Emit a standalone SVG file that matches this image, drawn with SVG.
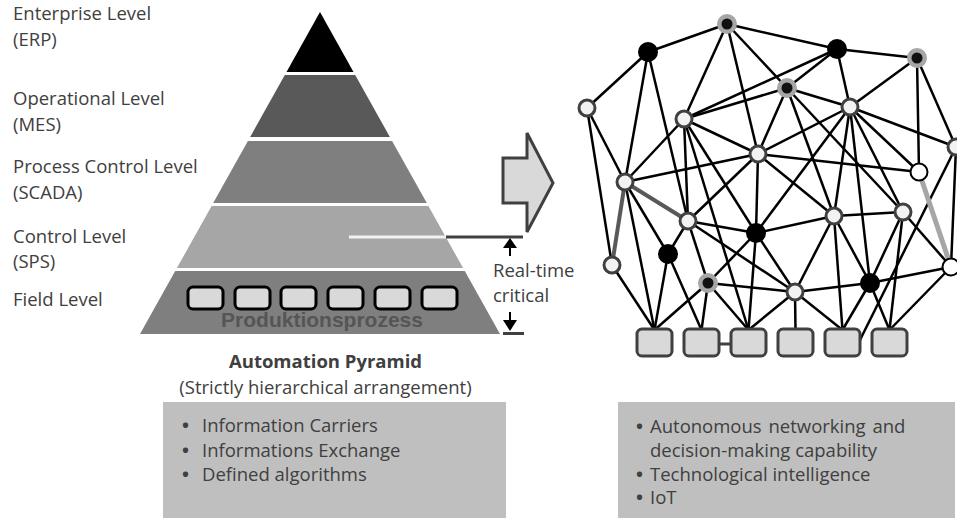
<svg xmlns="http://www.w3.org/2000/svg" width="957" height="519" viewBox="0 0 957 519">
<style>
.lbl{font-family:"Open Sans",Lato,"Liberation Sans",sans-serif;font-size:18.5px;fill:#404040}
.bold{font-weight:bold}
.bs{font-weight:bold}
.e{stroke:#000;stroke-width:2.5;fill:none}
.box{fill:#d9d9d9;stroke:#404040;stroke-width:3}
.pbox{fill:#d9d9d9;stroke:#000;stroke-width:3}
.wn{fill:#f2f2f2;stroke:#404040;stroke-width:3}
.pw{fill:#fff;stroke:#000;stroke-width:2}
.bk{fill:#000}
.halo{fill:#a6a6a6}
.core{fill:#111}
</style>
<rect width="957" height="519" fill="#fff"/>

<!-- left labels -->
<g id="labels">
<text class="lbl" x="13" y="20">Enterprise Level</text>
<text class="lbl" x="13" y="46">(ERP)</text>
<text class="lbl" x="13" y="105">Operational Level</text>
<text class="lbl" x="13" y="131">(MES)</text>
<text class="lbl" x="13" y="173">Process Control Level</text>
<text class="lbl" x="13" y="199">(SCADA)</text>
<text class="lbl" x="13" y="243">Control Level</text>
<text class="lbl" x="13" y="268">(SPS)</text>
<text class="lbl" x="13" y="306">Field Level</text>
</g>

<!-- pyramid -->
<g id="pyramid">
<polygon points="320,12 353.5,72 286.5,72" fill="#000"/>
<polygon points="284.8,75 355.2,75 389.9,137 250.1,137" fill="#595959"/>
<polygon points="247.9,141 392.1,141 426.8,203 213.2,203" fill="#7f7f7f"/>
<polygon points="211.6,206 428.4,206 463.1,268 176.9,268" fill="#a6a6a6"/>
<polygon points="175.2,271 464.8,271 500,334 140,334" fill="#7f7f7f"/>
<line x1="349" y1="237" x2="446" y2="237" stroke="#f2f2f2" stroke-width="3"/>
<rect class="pbox" x="188" y="287" width="35" height="22" rx="5"/>
<rect class="pbox" x="235" y="287" width="35" height="22" rx="5"/>
<rect class="pbox" x="281" y="287" width="35" height="22" rx="5"/>
<rect class="pbox" x="328" y="287" width="35" height="22" rx="5"/>
<rect class="pbox" x="375" y="287" width="35" height="22" rx="5"/>
<rect class="pbox" x="422" y="287" width="35" height="22" rx="5"/>
<text x="322" y="327" text-anchor="middle" font-family="'Liberation Sans',Arial,sans-serif" font-weight="bold" font-size="21" fill="#555">Produktionsprozess</text>
</g>

<!-- real-time marker -->
<g id="realtime">
<line x1="446" y1="237" x2="523" y2="237" stroke="#404040" stroke-width="3"/>
<line x1="510" y1="246" x2="510" y2="256" stroke="#000" stroke-width="2"/>
<polygon points="510,238 503,248 517,248" fill="#000"/>
<line x1="510" y1="312" x2="510" y2="321" stroke="#000" stroke-width="2"/>
<polygon points="503,320 517,320 510,331" fill="#000"/>
<line x1="503" y1="333.5" x2="524" y2="333.5" stroke="#404040" stroke-width="3"/>
<text class="lbl" x="493" y="277">Real-time</text>
<text class="lbl" x="493" y="302">critical</text>
</g>

<!-- big arrow -->
<g id="bigarrow">
<polygon points="503,158 527,158 527,133 553,183 527,232 527,203 503,203" fill="#d9d9d9" stroke="#404040" stroke-width="3" stroke-linejoin="miter"/>
</g>

<!-- captions -->
<g id="pyramid-caption">
<text class="lbl bold" x="325.5" y="368" text-anchor="middle">Automation Pyramid</text>
<text class="lbl" x="325.5" y="394" text-anchor="middle">(Strictly hierarchical arrangement)</text>
</g>

<g id="left-box">
<rect x="163" y="402" width="343" height="116" fill="#bfbfbf"/>
<text class="lbl" x="182" y="432"><tspan class="bs">•</tspan><tspan x="202">Information Carriers</tspan></text>
<text class="lbl" x="182" y="457"><tspan class="bs">•</tspan><tspan x="202">Informations Exchange</tspan></text>
<text class="lbl" x="182" y="481"><tspan class="bs">•</tspan><tspan x="202">Defined algorithms</tspan></text>
</g>

<g id="right-box">
<rect x="618" y="402" width="337" height="116" fill="#bfbfbf"/>
<text class="lbl" x="636" y="433"><tspan class="bs">•</tspan><tspan x="650" word-spacing="2">Autonomous networking and</tspan></text>
<text class="lbl" x="650" y="457">decision-making capability</text>
<text class="lbl" x="636" y="481"><tspan class="bs">•</tspan><tspan x="650">Technological intelligence</tspan></text>
<text class="lbl" x="636" y="504"><tspan class="bs">•</tspan><tspan x="650">IoT</tspan></text>
</g>

<!-- connectors of the network -->
<g id="connectors">
<g class="e">
<line x1="727" y1="24" x2="648" y2="52"/>
<line x1="727" y1="24" x2="837" y2="49"/>
<line x1="727" y1="24" x2="684" y2="119"/>
<line x1="727" y1="24" x2="758" y2="154"/>
<line x1="727" y1="24" x2="787" y2="88"/>
<line x1="837" y1="49" x2="917" y2="58"/>
<line x1="837" y1="49" x2="787" y2="88"/>
<line x1="837" y1="49" x2="850" y2="107"/>
<line x1="837" y1="49" x2="684" y2="119"/>
<line x1="917" y1="58" x2="850" y2="107"/>
<line x1="917" y1="58" x2="919" y2="172"/>
<line x1="917" y1="58" x2="956" y2="147"/>
<line x1="787" y1="88" x2="684" y2="119"/>
<line x1="787" y1="88" x2="850" y2="107"/>
<line x1="787" y1="88" x2="758" y2="154"/>
<line x1="787" y1="88" x2="834" y2="216"/>
<line x1="787" y1="88" x2="903" y2="212"/>
<line x1="850" y1="107" x2="758" y2="154"/>
<line x1="850" y1="107" x2="919" y2="172"/>
<line x1="850" y1="107" x2="956" y2="147"/>
<line x1="850" y1="107" x2="756" y2="233"/>
<line x1="850" y1="107" x2="834" y2="216"/>
<line x1="850" y1="107" x2="903" y2="212"/>
<line x1="850" y1="107" x2="870" y2="283"/>
<line x1="758" y1="154" x2="684" y2="119"/>
<line x1="758" y1="154" x2="625" y2="182"/>
<line x1="758" y1="154" x2="919" y2="172"/>
<line x1="758" y1="154" x2="688" y2="221"/>
<line x1="758" y1="154" x2="756" y2="233"/>
<line x1="758" y1="154" x2="834" y2="216"/>
<line x1="684" y1="119" x2="625" y2="182"/>
<line x1="684" y1="119" x2="688" y2="221"/>
<line x1="684" y1="119" x2="756" y2="233"/>
<line x1="684" y1="119" x2="748.5" y2="330"/>
<line x1="587" y1="108" x2="648" y2="52"/>
<line x1="587" y1="108" x2="625" y2="182"/>
<line x1="587" y1="108" x2="612" y2="265"/>
<line x1="648" y1="52" x2="625" y2="182"/>
<line x1="648" y1="52" x2="688" y2="221"/>
<line x1="625" y1="182" x2="668" y2="254"/>
<line x1="625" y1="182" x2="654.5" y2="330"/>
<line x1="688" y1="221" x2="668" y2="254"/>
<line x1="688" y1="221" x2="708" y2="283"/>
<line x1="688" y1="221" x2="756" y2="233"/>
<line x1="688" y1="221" x2="795" y2="292"/>
<line x1="668" y1="254" x2="654.5" y2="330"/>
<line x1="668" y1="254" x2="701.5" y2="330"/>
<line x1="612" y1="265" x2="654.5" y2="330"/>
<line x1="708" y1="283" x2="756" y2="233"/>
<line x1="708" y1="283" x2="795" y2="292"/>
<line x1="708" y1="283" x2="654.5" y2="330"/>
<line x1="708" y1="283" x2="701.5" y2="330"/>
<line x1="708" y1="283" x2="748.5" y2="330"/>
<line x1="756" y1="233" x2="834" y2="216"/>
<line x1="756" y1="233" x2="795" y2="292"/>
<line x1="756" y1="233" x2="748.5" y2="330"/>
<line x1="834" y1="216" x2="903" y2="212"/>
<line x1="834" y1="216" x2="870" y2="283"/>
<line x1="834" y1="216" x2="795" y2="292"/>
<line x1="834" y1="216" x2="842.5" y2="330"/>
<line x1="903" y1="212" x2="870" y2="283"/>
<line x1="903" y1="212" x2="951" y2="267"/>
<line x1="903" y1="212" x2="889.5" y2="330"/>
<line x1="870" y1="283" x2="795" y2="292"/>
<line x1="870" y1="283" x2="951" y2="267"/>
<line x1="870" y1="283" x2="842.5" y2="330"/>
<line x1="870" y1="283" x2="889.5" y2="330"/>
<line x1="795" y1="292" x2="748.5" y2="330"/>
<line x1="795" y1="292" x2="795.5" y2="330"/>
<line x1="795" y1="292" x2="842.5" y2="330"/>
<line x1="951" y1="267" x2="956" y2="147"/>
<line x1="951" y1="267" x2="889.5" y2="330"/>
<line x1="956" y1="147" x2="859" y2="342"/>
</g>
<line x1="625" y1="182" x2="612" y2="265" stroke="#595959" stroke-width="4"/>
<line x1="625" y1="182" x2="688" y2="221" stroke="#595959" stroke-width="4"/>
<line x1="919" y1="172" x2="951" y2="267" stroke="#a6a6a6" stroke-width="5"/>
<line x1="719" y1="344" x2="732" y2="344" stroke="#404040" stroke-width="3"/>
</g>

<!-- devices -->
<g id="devices">
<rect id="b1" class="box" x="637" y="329" width="35" height="27" rx="5"/>
<rect id="b2" class="box" x="684" y="329" width="35" height="27" rx="5"/>
<rect id="b3" class="box" x="731" y="329" width="35" height="27" rx="5"/>
<rect id="b4" class="box" x="778" y="329" width="35" height="27" rx="5"/>
<rect id="b5" class="box" x="825" y="329" width="35" height="27" rx="5"/>
<rect id="b6" class="box" x="872" y="329" width="35" height="27" rx="5"/>
</g>

<!-- network nodes -->
<g id="nA"><circle class="halo" cx="727" cy="24" r="10"/><circle class="core" cx="727" cy="24" r="5.5"/></g>
<g id="nB"><circle class="bk" cx="648" cy="52" r="10"/></g>
<g id="nC"><circle class="bk" cx="837" cy="49" r="10"/></g>
<g id="nD"><circle class="halo" cx="917" cy="58" r="10"/><circle class="core" cx="917" cy="58" r="5.5"/></g>
<g id="nE"><circle class="halo" cx="787" cy="88" r="10"/><circle class="core" cx="787" cy="88" r="5.5"/></g>
<g id="nF"><circle class="wn" cx="587" cy="108" r="8"/></g>
<g id="nG"><circle class="wn" cx="684" cy="119" r="8"/></g>
<g id="nH"><circle class="wn" cx="850" cy="107" r="8"/></g>
<g id="nI"><circle class="wn" cx="758" cy="154" r="8"/></g>
<g id="nJ"><circle class="wn" cx="625" cy="182" r="8"/></g>
<g id="nK"><circle class="pw" cx="919" cy="172" r="8.5"/></g>
<g id="nL"><circle class="wn" cx="956" cy="147" r="8"/></g>
<g id="nM"><circle class="wn" cx="688" cy="221" r="8"/></g>
<g id="nN"><circle class="bk" cx="668" cy="254" r="10"/></g>
<g id="nO"><circle class="wn" cx="612" cy="265" r="8"/></g>
<g id="nP"><circle class="halo" cx="708" cy="283" r="10"/><circle class="core" cx="708" cy="283" r="5.5"/></g>
<g id="nQ"><circle class="bk" cx="756" cy="233" r="10"/></g>
<g id="nR"><circle class="wn" cx="834" cy="216" r="8"/></g>
<g id="nS"><circle class="wn" cx="903" cy="212" r="8"/></g>
<g id="nT"><circle class="bk" cx="870" cy="283" r="10"/></g>
<g id="nU"><circle class="wn" cx="795" cy="292" r="8"/></g>
<g id="nV"><circle class="pw" cx="951" cy="267" r="8.5"/></g>
</svg>
